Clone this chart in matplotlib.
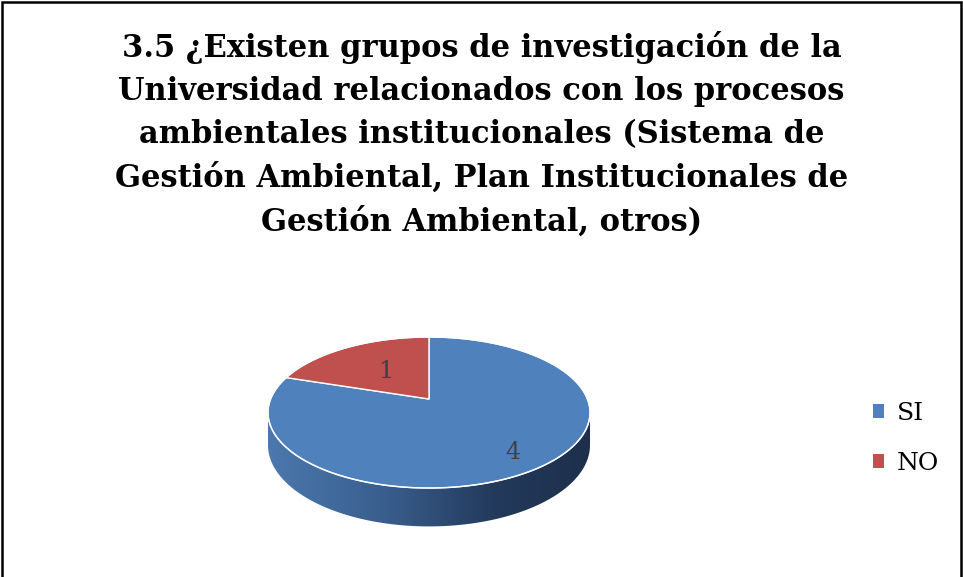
import numpy as np
import matplotlib
matplotlib.use("Agg")
import matplotlib.pyplot as plt
from matplotlib.patches import Polygon, Patch, Rectangle
from matplotlib.colors import LinearSegmentedColormap

# ---- data ----
categories = ["SI", "NO"]
values = [4, 1]
title_lines = [
    "3.5 ¿Existen grupos de investigación de la",
    "Universidad relacionados con los procesos",
    "ambientales institucionales (Sistema de",
    "Gestión Ambiental, Plan Institucionales de",
    "Gestión Ambiental, otros)",
]

# ---- style ----
top_colors = ["#4f81bd", "#c0504d"]
label_radius = [0.8, 0.5]
W, H = 963, 577
CX, CY = 429, 399        # projected pie centre (px)
A, B = 158.4, 73.1       # projected radii
K = 0.179                # perspective factor
D = 31.5                 # wall depth

fig = plt.figure(figsize=(W / 100, H / 100), dpi=100)
ax = fig.add_axes([0, 0, 1, 1])
ax.set_xlim(0, W)
ax.set_ylim(H, 0)
ax.axis("off")


def proj(r, t):
    x = r * np.cos(t)
    y = r * np.sin(t)
    w = 1 + K * y
    return CX + A * x / w, CY - B * y / w, w


# ---- side wall (front, visible part) ----
tl = np.pi + np.arcsin(K)
tr = 2 * np.pi - np.arcsin(K)
ts = np.linspace(tl, tr, 300)
xt, yt, wt = proj(1.0, ts)
yb = yt + D / wt
wall = np.vstack([np.column_stack([xt, yt]), np.column_stack([xt[::-1], yb[::-1]])])
wall_patch = Polygon(wall, closed=True, facecolor="none", edgecolor="none")
ax.add_patch(wall_patch)
cmap = LinearSegmentedColormap.from_list(
    "wall", [(0, "#4b78ae"), (0.35, "#3a5f8e"), (0.7, "#233a5c"), (1.0, "#1d2f4c")])
grad = np.linspace(0, 1, 256)[None, :]
im = ax.imshow(grad, cmap=cmap, aspect="auto",
               extent=(xt.min(), xt.max(), yb.max() + 2, yt.min() - 2), zorder=1)
im.set_clip_path(wall_patch)
ax.set_xlim(0, W)
ax.set_ylim(H, 0)

# ---- top face wedges ----
total = float(sum(values))
start = np.pi / 2
angles = []
for v in values:
    sweep = 2 * np.pi * v / total
    angles.append((start, start - sweep))
    start -= sweep

for (a0, a1), col in zip(angles, top_colors):
    tt = np.linspace(a0, a1, 200)
    px, py, _ = proj(1.0, tt)
    pts = np.vstack([[CX, CY], np.column_stack([px, py])])
    ax.add_patch(Polygon(pts, closed=True, facecolor=col, edgecolor="white",
                         linewidth=1.0, joinstyle="round", zorder=2))

# rim highlight
tt = np.linspace(0, 2 * np.pi, 400)
px, py, _ = proj(1.0, tt)
ax.plot(px, py, color="white", lw=1.0, alpha=0.9, zorder=3)

# ---- data labels ----
for (a0, a1), v, rr in zip(angles, values, label_radius):
    mid = (a0 + a1) / 2
    lx, ly, _ = proj(rr, mid)
    ax.text(lx, ly, str(v), ha="center", va="center", fontsize=17,
            family="DejaVu Serif", color="#404040", zorder=4)

# ---- title (one text per line) ----
for i, line in enumerate(title_lines):
    fig.text(0.5, 1 - (56.7 + 43.4 * i) / H, line, ha="center", va="baseline",
             fontsize=22, fontweight="bold", family="DejaVu Serif", color="black")

# ---- legend ----
handles = [Patch(facecolor=c, edgecolor="none") for c in top_colors]
leg = ax.legend(handles, categories, loc="center left",
                bbox_to_anchor=(873 / W, 1 - 438.5 / H), frameon=False,
                handlelength=0.45, handleheight=0.45, handletextpad=0.5,
                labelspacing=1.08, borderaxespad=0, borderpad=0,
                prop={"family": "DejaVu Serif", "size": 18})

# ---- frame ----
fig.patches.append(Rectangle((2 / W, -0.05), (W - 4.5) / W, 1.05 - 2 / H,
                             transform=fig.transFigure, fill=False,
                             edgecolor="black", linewidth=1.8))

fig.savefig("out.png", dpi=100)
